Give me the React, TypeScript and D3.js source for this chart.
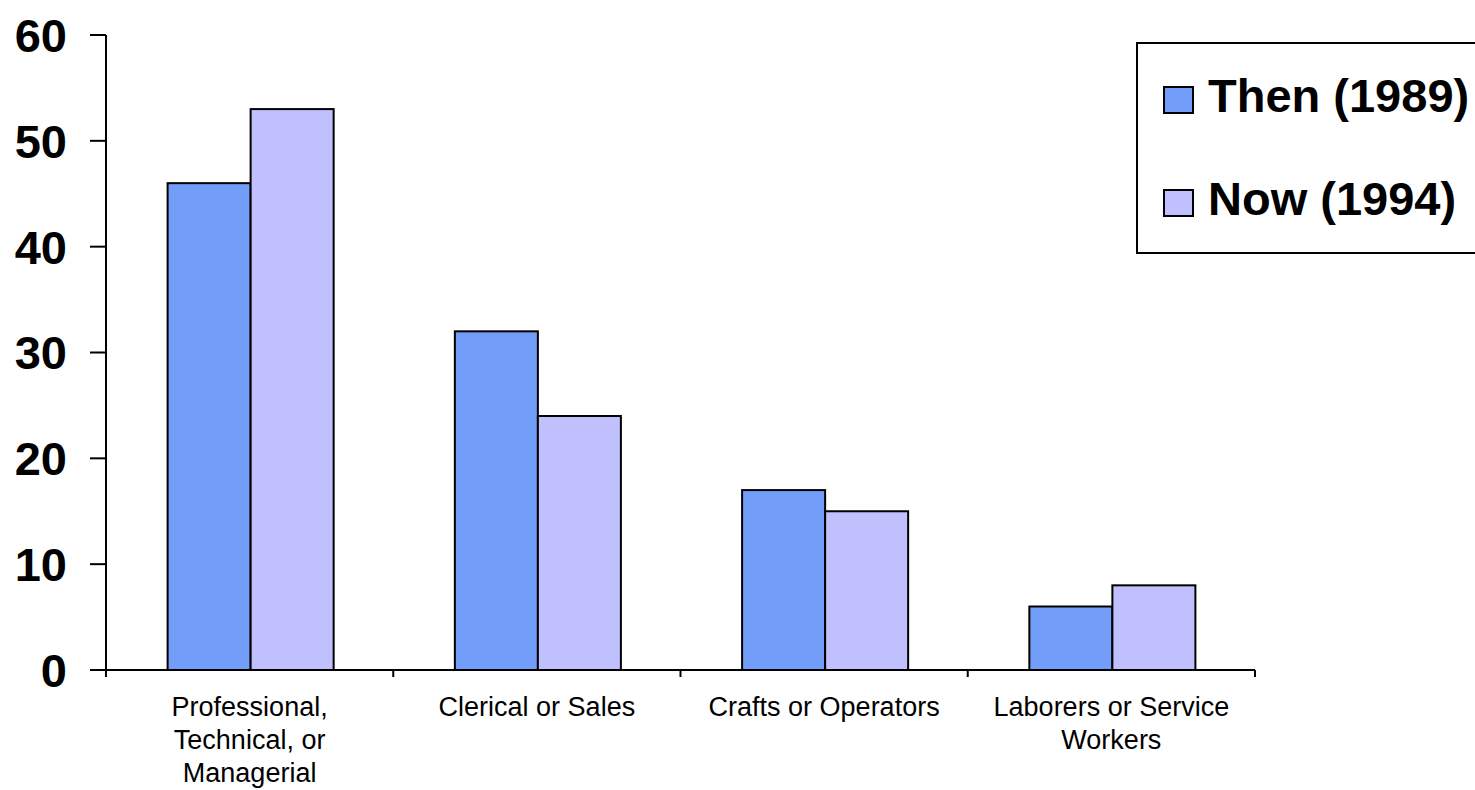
import React from "react";
import * as d3 from "d3";

const categories: string[][] = [
  ["Professional,", "Technical, or", "Managerial"],
  ["Clerical or Sales"],
  ["Crafts or Operators"],
  ["Laborers or Service", "Workers"],
];
const seriesNames = ["Then (1989)", "Now (1994)"];
const thenValues = [46, 32, 17, 6];
const nowValues = [53, 24, 15, 8];
const seriesColors = ["#729ef9", "#c0c0ff"];
const yTicks = [0, 10, 20, 30, 40, 50, 60];

export default function App() {
  const W = 1475, H = 790;
  const left = 106, right = 1255, top = 35, bottom = 670;
  const keys = categories.map((_, i) => String(i));
  const x = d3.scaleBand<string>().domain(keys).range([left, right]).paddingInner(0).paddingOuter(0);
  const inner = d3.scaleBand<string>().domain(["0", "1"]).range([0, x.bandwidth()]).paddingInner(0).paddingOuter(0.73);
  const y = d3.scaleLinear().domain([0, 60]).range([bottom, top]);
  const series = [thenValues, nowValues];
  const font = "Arial, 'Liberation Sans', Helvetica, sans-serif";
  const boundaries = d3.range(categories.length + 1).map((i) => left + i * x.step());

  return (
    <div style={{ position: "absolute", left: 0, top: 0 }}>
      <svg width={W} height={H} style={{ display: "block", background: "#fff" }} fontFamily={font}>
        {series.map((vals, s) =>
          vals.map((v, i) => (
            <rect
              key={`${s}-${i}`}
              x={(x(String(i)) as number) + (inner(String(s)) as number) + 1}
              y={y(v)}
              width={inner.bandwidth()}
              height={y(0) - y(v)}
              fill={seriesColors[s]}
              stroke="#000"
              strokeWidth={2}
            />
          ))
        )}
        {/* Y axis */}
        <line x1={left} x2={left} y1={top} y2={bottom + 7} stroke="#000" strokeWidth={2} />
        {yTicks.map((t) => (
          <g key={t}>
            <line x1={left - 16} x2={left} y1={y(t)} y2={y(t)} stroke="#000" strokeWidth={2} />
            <text x={67} y={y(t)} dy="0.36em" textAnchor="end" fontSize={47} fontWeight="bold" fill="#000">
              {t}
            </text>
          </g>
        ))}
        {/* X axis */}
        <line x1={left - 16} x2={right} y1={bottom} y2={bottom} stroke="#000" strokeWidth={2} />
        {boundaries.map((bx, i) => (
          <line key={i} x1={bx} x2={bx} y1={bottom} y2={bottom + 7} stroke="#000" strokeWidth={2} />
        ))}
        {categories.map((lines, i) => (
          <text key={i} textAnchor="middle" fontSize={27} fill="#000">
            {lines.map((ln, j) => (
              <tspan key={j} x={(x(String(i)) as number) + x.bandwidth() / 2} y={716 + j * 33}>
                {ln}
              </tspan>
            ))}
          </text>
        ))}
        {/* Legend */}
        <rect x={1137} y={43} width={360} height={210} fill="#fff" stroke="#000" strokeWidth={2} />
        {seriesNames.map((name, s) => (
          <g key={name}>
            <rect x={1164} y={87 + s * 103} width={29} height={26} fill={seriesColors[s]} stroke="#000" strokeWidth={2} />
            <text x={1208} y={112 + s * 103} fontSize={47} fontWeight="bold" fill="#000">
              {name}
            </text>
          </g>
        ))}
      </svg>
    </div>
  );
}
